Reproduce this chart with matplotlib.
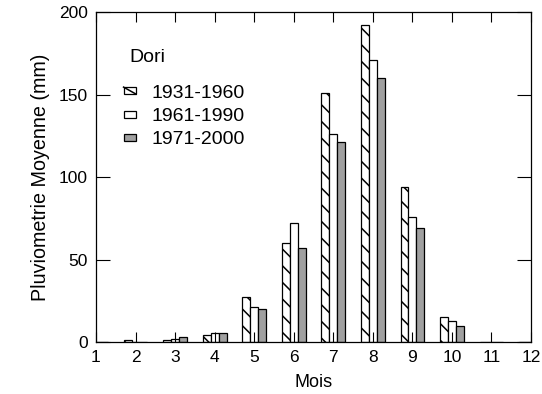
import matplotlib
matplotlib.use("Agg")
import matplotlib.pyplot as plt
import numpy as np
from matplotlib.patches import Patch, Rectangle
from matplotlib.lines import Line2D
from matplotlib.legend_handler import HandlerBase

months = [1, 2, 3, 4, 5, 6, 7, 8, 9, 10, 11, 12]
p1931_1960 = [0, 1.0, 1.2, 4.0, 27, 60, 151, 192, 94, 15, 0.3, 0]
p1961_1990 = [0, 0.3, 2.0, 5.4, 21, 72, 126, 171, 76, 13, 0.3, 0]
p1971_2000 = [0, 0.2, 2.8, 5.4, 20, 57, 121, 160, 69, 10, 0.2, 1.0]
series_labels = ["1931-1960", "1961-1990", "1971-2000"]
station = "Dori"

plt.rcParams['font.family'] = ['Liberation Sans', 'DejaVu Sans']
plt.rcParams['hatch.linewidth'] = 1.1
fs_tick = 12.5
fs_ylab = 14.2
fs_xlab = 13
fs_leg = 14
gray = '#a0a0a0'


class BoxHandler(HandlerBase):
    def create_artists(self, legend, orig_handle, xdescent, ydescent, width, height, fontsize, trans):
        h = 0.36 * fontsize
        yc = -ydescent + height / 2.0
        y0 = yc - h / 2.0
        arts = [Rectangle((-xdescent, y0), width, h,
                          facecolor=orig_handle.get_facecolor(), edgecolor='black',
                          linewidth=0.9, transform=trans)]
        if orig_handle.get_hatch():
            arts.append(Line2D([-xdescent, -xdescent + width], [y0 + h, y0],
                               color='black', linewidth=1.1, transform=trans))
        return arts


fig = plt.figure(figsize=(5.42, 3.94), dpi=100)
ax = fig.add_axes([96/542, 1-342/394, (531-96)/542, (342-12)/394])

x = np.array(months, dtype=float)
w = 0.2
ax.bar(x - w, p1931_1960, w, facecolor='white', edgecolor='black', hatch='\\\\', linewidth=0.9)
ax.bar(x, p1961_1990, w, facecolor='white', edgecolor='black', linewidth=0.9)
ax.bar(x + w, p1971_2000, w, facecolor=gray, edgecolor='black', linewidth=0.9)

ax.set_xlim(1, 12)
ax.set_ylim(0, 200)
ax.set_xticks(months)
ax.set_yticks([0, 50, 100, 150, 200])
ax.tick_params(axis='x', direction='in', top=True, length=7, width=0.8, labelsize=fs_tick, pad=6)
ax.tick_params(axis='y', direction='in', right=True, length=10, width=0.8, labelsize=fs_tick, pad=6)
for s in ax.spines.values():
    s.set_linewidth(0.9)

ax.set_xlabel("Mois", fontsize=fs_xlab, labelpad=6)
ax.set_ylabel("Pluviometrie Moyenne (mm)", fontsize=fs_ylab, labelpad=6)

ax.text(129/542, 1-57/394, station, transform=fig.transFigure, fontsize=fs_leg, va='center', ha='left')
handles = [Patch(facecolor='white', edgecolor='black', hatch='\\\\'),
           Patch(facecolor='white', edgecolor='black'),
           Patch(facecolor=gray, edgecolor='black')]
leg = ax.legend(handles, series_labels, loc='upper left', bbox_to_anchor=(108/542, 1-69/394),
                bbox_transform=fig.transFigure, frameon=False, fontsize=fs_leg, borderpad=0.3,
                handlelength=0.64, handleheight=0.4, handletextpad=0.82, labelspacing=0.33,
                handler_map={Patch: BoxHandler()})

fig.savefig("out.png", dpi=100)
